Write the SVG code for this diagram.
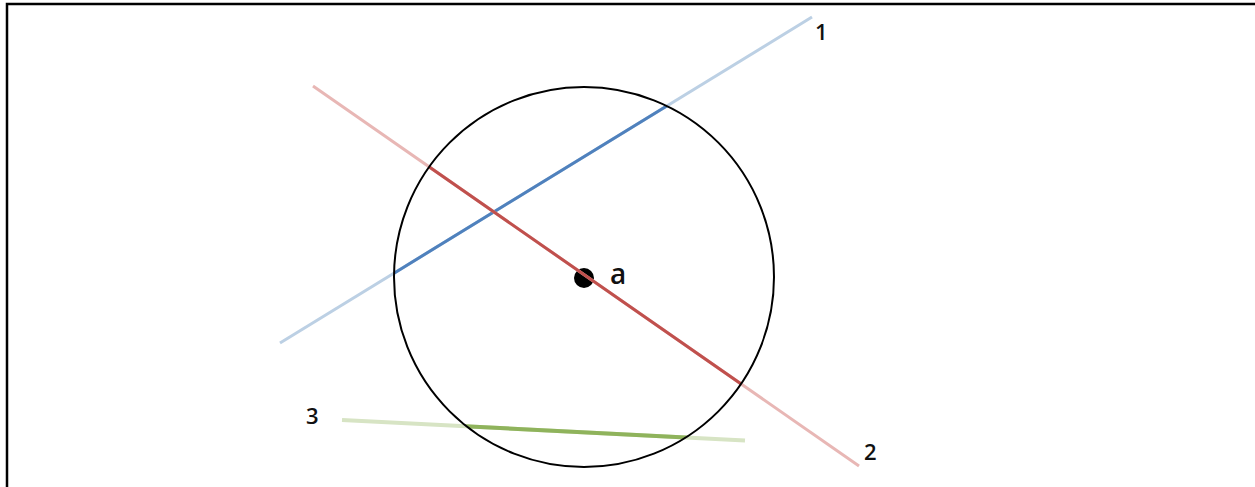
<svg xmlns="http://www.w3.org/2000/svg" width="1255" height="487" viewBox="0 0 1255 487">
<style>
.frame{stroke:#000;stroke-width:2.5;fill:none}
.lbl{font-family:"Open Sans","Liberation Sans",sans-serif;font-size:22px;font-weight:600;fill:#111}
.l1o{stroke:#bcd0e4;stroke-width:3}
.l1i{stroke:#4f81bd;stroke-width:3}
.l2o{stroke:#e8b7b5;stroke-width:3}
.l2i{stroke:#c0504d;stroke-width:3}
.l3o{stroke:#d7e4c4;stroke-width:4}
.l3i{stroke:#8fb35c;stroke-width:4}
</style>
<defs>
<clipPath id="inside"><circle cx="584" cy="277" r="190"/></clipPath>
</defs>
<rect width="1255" height="487" fill="#fff"/>
<path class="frame" d="M7,487 V4 H1255"/>
<g id="center">
<circle cx="584" cy="278" r="10" fill="#000"/>
<text class="lbl" x="610" y="284" style="font-size:28px">a</text>
</g>
<g id="lines">
<g id="line1">
<line class="l1o" x1="280" y1="343" x2="812" y2="17"/>
<line class="l1i" x1="280" y1="343" x2="812" y2="17" clip-path="url(#inside)"/>
<text class="lbl" x="815" y="40">1</text>
</g>
<g id="line2">
<line class="l2o" x1="313" y1="86" x2="859" y2="466"/>
<line class="l2i" x1="313" y1="86" x2="859" y2="466" clip-path="url(#inside)"/>
<text class="lbl" x="864" y="460">2</text>
</g>
<g id="line3">
<line class="l3o" x1="342" y1="420" x2="745" y2="440.5"/>
<line class="l3i" x1="342" y1="420" x2="745" y2="440.5" clip-path="url(#inside)"/>
<text class="lbl" x="306" y="424">3</text>
</g>
</g>
<g id="circle">
<circle cx="584" cy="277" r="190" fill="none" stroke="#000" stroke-width="2"/>
</g>
</svg>
